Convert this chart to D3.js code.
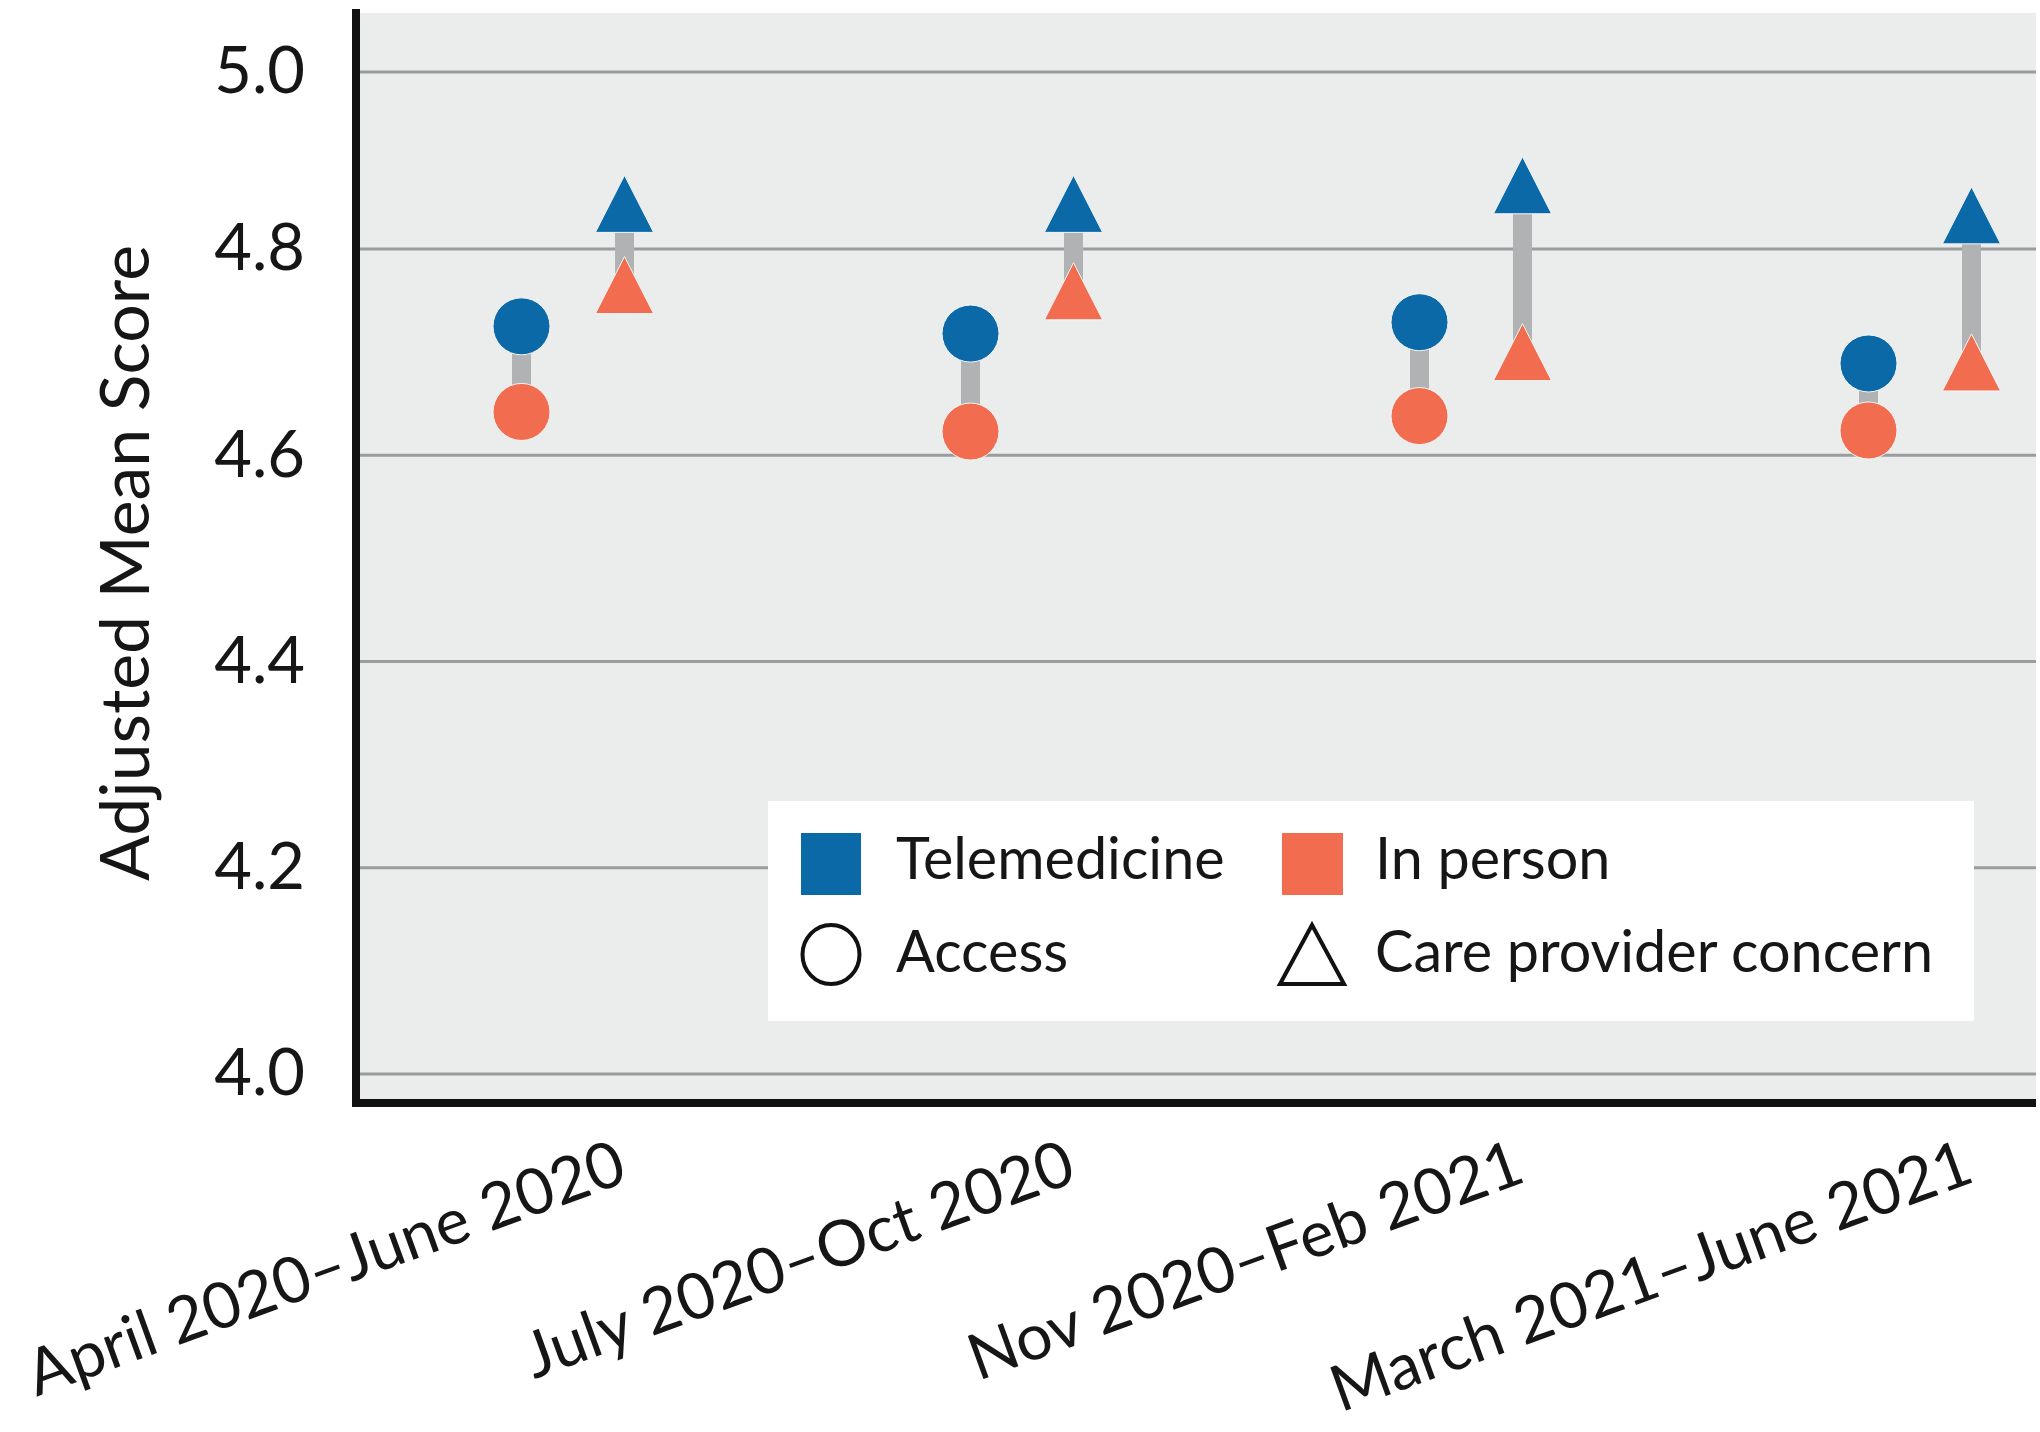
<!DOCTYPE html>
<html>
<head>
<meta charset="utf-8">
<script src="https://cdn.jsdelivr.net/npm/d3@7"></script>
<style>
  body { margin: 0; background: #fff; }
  text { font-family: Lato, "Open Sans", sans-serif; fill: #161616; }
</style>
</head>
<body>
<div id="chart"></div>
<script>
var categories = ["April 2020\u2013June 2020", "July 2020\u2013Oct 2020", "Nov 2020\u2013Feb 2021", "March 2021\u2013June 2021"];
var measures = ["Access", "Care provider concern"];

// adjusted mean scores
var teleAccess = [4.725, 4.718, 4.729, 4.689];
var inPersonAccess = [4.642, 4.623, 4.638, 4.624];
var teleConcern = [4.851, 4.851, 4.872, 4.838];
var inPersonConcern = [4.765, 4.759, 4.700, 4.690];

var yTicks = [4.0, 4.2, 4.4, 4.6, 4.8, 5.0];

var blue = "#0b69a8", orange = "#f26c4f", connector = "#b1b2b4";

var W = 2040, H = 1432;
var plot = { left: 356, right: 2036, top: 13, bottom: 1103 };

var svg = d3.select("#chart").append("svg")
    .attr("width", W)
    .attr("height", H);

// the original figure spaces 4.8-5.0 a little tighter than the rest
var y = d3.scaleLinear().domain([4.0, 4.8, 5.0]).range([1074, 249, 72]);
var x = d3.scalePoint().domain(categories).range([573, 1920]);
var xOff = d3.scalePoint().domain(measures).range([-51.5, 51.5]);

// plot background
svg.append("rect")
    .attr("x", plot.left).attr("y", plot.top)
    .attr("width", plot.right - plot.left).attr("height", plot.bottom - plot.top)
    .attr("fill", "#ebedec");

// gridlines
svg.append("g").selectAll("line").data(yTicks).enter().append("line")
    .attr("x1", plot.left).attr("x2", plot.right)
    .attr("y1", function(d) { return y(d); }).attr("y2", function(d) { return y(d); })
    .attr("stroke", "#9b9c9e").attr("stroke-width", 3);

// y axis labels
var yAxis = svg.append("g")
    .attr("transform", "translate(" + plot.left + ",0)")
    .call(d3.axisLeft(y).tickValues(yTicks).tickFormat(d3.format(".1f")).tickSize(0).tickPadding(51));
yAxis.select(".domain").remove();
yAxis.selectAll("text").attr("font-size", 65).attr("font-family", "Lato, sans-serif").attr("fill", "#161616");

// x axis labels
var xAxis = svg.append("g")
    .attr("transform", "translate(0," + plot.bottom + ")")
    .call(d3.axisBottom(x).tickSize(0));
xAxis.select(".domain").remove();
xAxis.selectAll("text")
    .attr("font-size", 64).attr("font-family", "Lato, sans-serif").attr("fill", "#161616")
    .attr("text-anchor", "end")
    .attr("y", 0).attr("dy", 0)
    .attr("transform", "translate(56,78) rotate(-20)");

// axis lines
svg.append("line").attr("x1", plot.left).attr("x2", plot.left).attr("y1", plot.top - 4).attr("y2", plot.bottom + 4)
    .attr("stroke", "#111").attr("stroke-width", 8);
svg.append("line").attr("x1", plot.left - 4).attr("x2", plot.right).attr("y1", plot.bottom).attr("y2", plot.bottom)
    .attr("stroke", "#111").attr("stroke-width", 8);

// y title
svg.append("text")
    .text("Adjusted Mean Score")
    .attr("transform", "translate(149,563) rotate(-90)")
    .attr("text-anchor", "middle")
    .attr("font-size", 68);

// rows: one per category and measure
var rows = [];
categories.forEach(function(c, i) {
    rows.push({ cat: c, measure: "Access", tele: teleAccess[i], inPerson: inPersonAccess[i] });
    rows.push({ cat: c, measure: "Care provider concern", tele: teleConcern[i], inPerson: inPersonConcern[i] });
});

var triShape = {
    draw: function(ctx, size) {
        var s = Math.sqrt(size);
        var hw = s * 0.51, hh = s * 0.5;
        ctx.moveTo(0, -hh);
        ctx.lineTo(hw, hh);
        ctx.lineTo(-hw, hh);
        ctx.closePath();
    }
};
function shapeFor(m) { return m === "Access" ? d3.symbolCircle : triShape; }
function sizeFor(m) { return m === "Access" ? Math.PI * 28.5 * 28.5 : 57 * 57; }
function px(d) { return x(d.cat) + xOff(d.measure); }

var marks = svg.append("g");

marks.selectAll(".conn").data(rows).enter().append("line")
    .attr("class", "conn")
    .attr("x1", px).attr("x2", px)
    .attr("y1", function(d) { return y(d.tele); })
    .attr("y2", function(d) { return y(d.inPerson); })
    .attr("stroke", connector).attr("stroke-width", 19);

marks.selectAll(".inperson").data(rows).enter().append("path")
    .attr("class", "inperson")
    .attr("d", function(d) { return d3.symbol().type(shapeFor(d.measure)).size(sizeFor(d.measure))(); })
    .attr("transform", function(d) { return "translate(" + px(d) + "," + y(d.inPerson) + ")"; })
    .attr("fill", orange).attr("stroke", "#f4f6f5").attr("stroke-width", 1);

marks.selectAll(".tele").data(rows).enter().append("path")
    .attr("class", "tele")
    .attr("d", function(d) { return d3.symbol().type(shapeFor(d.measure)).size(sizeFor(d.measure))(); })
    .attr("transform", function(d) { return "translate(" + px(d) + "," + y(d.tele) + ")"; })
    .attr("fill", blue).attr("stroke", "#f4f6f5").attr("stroke-width", 1);

// legend
var legend = svg.append("g").attr("transform", "translate(768,801)");
legend.append("rect").attr("width", 1206).attr("height", 220).attr("fill", "#fff");

legend.append("rect").attr("x", 33).attr("y", 32).attr("width", 60).attr("height", 62).attr("fill", blue);
legend.append("text").text("Telemedicine").attr("x", 128).attr("y", 78).attr("font-size", 57.5);
legend.append("rect").attr("x", 514).attr("y", 32).attr("width", 61).attr("height", 62).attr("fill", orange);
legend.append("text").text("In person").attr("x", 607).attr("y", 78).attr("font-size", 57.5);

legend.append("ellipse").attr("cx", 63).attr("cy", 153.5).attr("rx", 28.5).attr("ry", 29.5)
    .attr("fill", "none").attr("stroke", "#111").attr("stroke-width", 4);
legend.append("text").text("Access").attr("x", 128).attr("y", 171).attr("font-size", 57.5);
legend.append("path")
    .attr("d", d3.line()([[544, 124], [576, 183], [512, 183]]) + "Z")
    .attr("fill", "none").attr("stroke", "#111").attr("stroke-width", 4).attr("stroke-linejoin", "miter");
legend.append("text").text("Care provider concern").attr("x", 607).attr("y", 171).attr("font-size", 57.5);
</script>
</body>
</html>
